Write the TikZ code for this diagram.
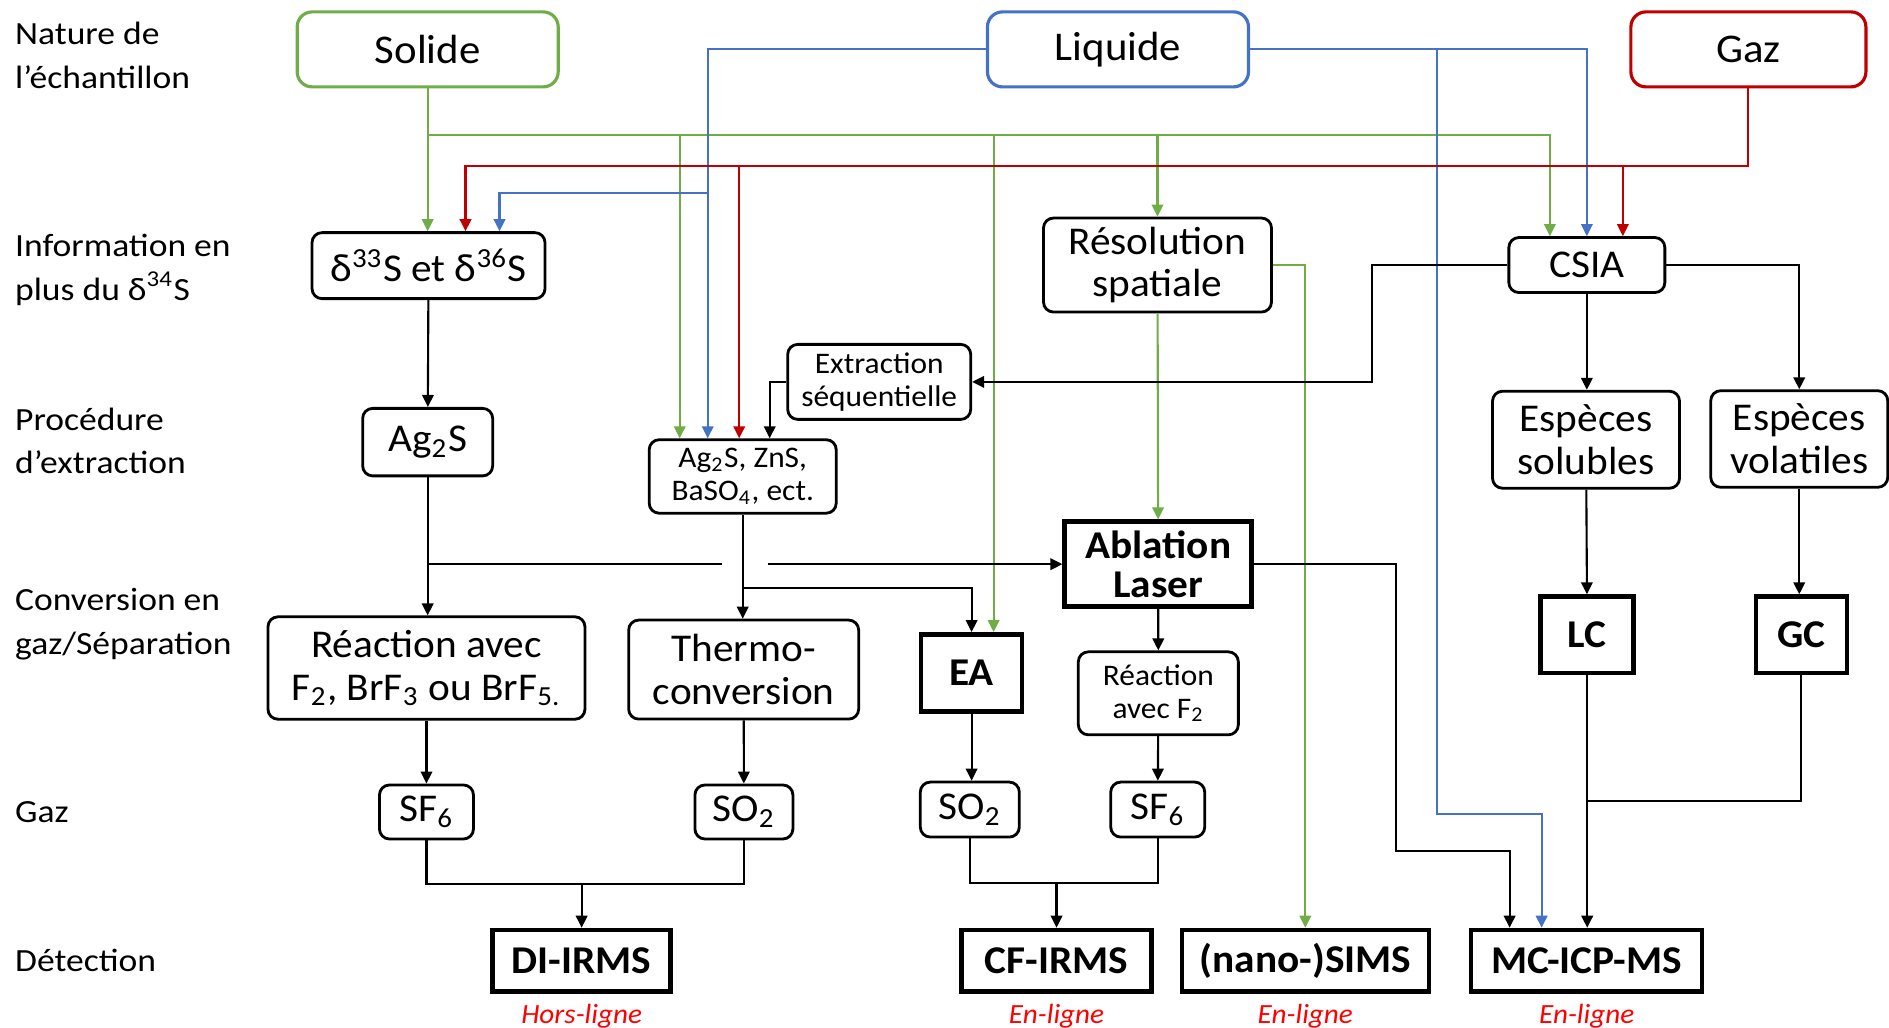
\documentclass[tikz,border=0pt]{standalone}
\usepackage{fontspec}
\setmainfont{Carlito}[FakeStretch=1.05]
\newfontfamily\labfont{Carlito}[FakeStretch=1.1]
\usetikzlibrary{arrows.meta,positioning}

\definecolor{vert}{HTML}{70AD47}
\definecolor{bleu}{HTML}{4472C4}
\definecolor{rouge}{HTML}{C00000}

\tikzset{
>={Triangle[length=1.2mm,width=1.15mm]},
every node/.style={inner sep=0pt, align=center},
etape/.style={draw, line width=0.8pt, rounded corners=1mm, font=\fontsize{11.2}{12.2}\selectfont},
petit/.style={etape, font=\fontsize{8.5}{9.3}\selectfont},
source/.style={draw=#1, line width=0.9pt, rounded corners=1.5mm, minimum width=26.1mm, minimum height=7.5mm, font=\fontsize{11.6}{12.6}\selectfont},
appareil/.style={draw, line width=1.3pt, font=\bfseries\fontsize{11.2}{11.2}\selectfont},
niveau/.style={anchor=west, align=left, font=\labfont\fontsize{9.2}{12.3}\selectfont},
mode/.style={text=red, font=\itshape\fontsize{7.9}{8.5}\selectfont},
fl/.style={->, line width=0.6pt},
ln/.style={line width=0.6pt},
gfl/.style={fl, vert},
bfl/.style={fl, bleu},
rfl/.style={fl, rouge},
}

\begin{document}
\begin{tikzpicture}[x=0.12047mm, y=-0.12047mm]
    \useasboundingbox (0,0) rectangle (1568,853);

    % niveaux
    \node[niveau] (lnat) at (12,46) {Nature de\\l’échantillon};
    \node[niveau] (linfo) at (12,224) {Information en\\plus du δ\textsuperscript{34}S};
    \node[niveau] (lproc) at (12,366) {Procédure\\d’extraction};
    \node[niveau] (lconv) at (12,518) {Conversion en\\gaz/Séparation};
    \node[niveau] (lgaz) at (12,674) {Gaz};
    \node[niveau] (ldet) at (12,797) {Détection};

    % echantillons
    \node[source=vert] (solide) at (355,41) {Solide};
    \node[source=bleu] (liquide) at (928,41) {Liquide};
    \node[source=rouge, minimum width=23.5mm] (gaz) at (1451.3,41) {Gaz};

    \node[etape, minimum width=23.3mm, minimum height=6.6mm] (delta) at (355.7,220.5) {δ\textsuperscript{33}S et δ\textsuperscript{36}S};
    \node[etape, minimum width=22.8mm, minimum height=9.4mm] (resol) at (960.8,220) {Résolution\\spatiale};
    \node[etape, minimum width=15.6mm, minimum height=5.5mm] (csia) at (1317.2,220) {CSIA};

    \node[petit, minimum width=18.3mm, minimum height=7.5mm] (extr) at (729.8,317) {Extraction\\séquentielle};
    \node[etape, minimum width=13mm, minimum height=6.75mm] (ag) at (355,367) {Ag\textsubscript{2}S};
    \node[petit, minimum width=18.7mm, minimum height=7.35mm] (mix) at (616.5,395.5) {Ag\textsubscript{2}S, ZnS,\\BaSO\textsubscript{4}, ect.};
    \node[etape, minimum width=18.7mm, minimum height=9.7mm] (sol) at (1316.5,365) {Espèces\\solubles};
    \node[etape, minimum width=17.7mm, minimum height=9.66mm] (vol) at (1493.5,364.4) {Espèces\\volatiles};

    \node[appareil, minimum width=18.7mm, minimum height=8.5mm] (abl) at (961.4,468.3) {Ablation\\Laser};

    \node[etape, minimum width=31.7mm, minimum height=10.24mm] (reac) at (354,554.5) {Réaction avec\\F\textsubscript{2}, BrF\textsubscript{3} ou BrF\textsubscript{5.}};
    \node[etape, minimum width=23mm, minimum height=9.9mm] (thermo) at (617.3,555.8) {Thermo-\\conversion};
    \node[appareil, minimum width=10.1mm, minimum height=7.7mm] (ea) at (806.5,558.5) {EA};
    \node[petit, minimum width=16mm, minimum height=8.3mm] (reacf) at (961.5,575.5) {Réaction\\avec F\textsubscript{2}};
    \node[appareil, minimum width=9.3mm, minimum height=7.66mm] (lc) at (1317.5,527) {LC};
    \node[appareil, minimum width=9.1mm, minimum height=7.66mm] (gc) at (1495.3,527) {GC};

    \node[etape, minimum width=9.4mm, minimum height=5.4mm] (sfa) at (354,674) {SF\textsubscript{6}};
    \node[etape, minimum width=9.8mm, minimum height=5.4mm] (soa) at (617.5,674) {SO\textsubscript{2}};
    \node[etape, minimum width=9.9mm, minimum height=5.5mm] (sob) at (805,672) {SO\textsubscript{2}};
    \node[etape, minimum width=9.4mm, minimum height=5.5mm] (sfb) at (961,672) {SF\textsubscript{6}};

    \node[appareil, minimum width=17.8mm, minimum height=6.15mm] (di) at (482.8,797.5) {DI-IRMS};
    \node[appareil, minimum width=19mm, minimum height=6.15mm] (cf) at (877,797.5) {CF-IRMS};
    \node[appareil, minimum width=24.7mm, minimum height=6.15mm] (sims) at (1083.5,797.5) {(nano-)SIMS};
    \node[appareil, minimum width=23.1mm, minimum height=6.15mm] (mc) at (1317,797.5) {MC-ICP-MS};

    \node[mode] (mdi) at ([yshift=-2.25mm]di.south) {Hors-ligne};
    \node[mode] (mcf) at ([yshift=-2.25mm]cf.south) {En-ligne};
    \node[mode] (msims) at ([yshift=-2.25mm]sims.south) {En-ligne};
    \node[mode] (mmc) at ([yshift=-2.25mm]mc.south) {En-ligne};

    % points de jonction
    \coordinate (jv) at (0,112);
    \coordinate (jr) at (0,138);
    \coordinate (jb) at (0,160);
    \coordinate (jm) at (0,488);
    \coordinate (jg) at (0,664.6);
    \coordinate (jl) at (1193,676);
    \coordinate (ja) at (1159,706.4);
    \coordinate (jcf) at (0,733);
    \coordinate (jdi) at (0,733.8);
    \coordinate (jc) at (1138.6,0);

    % solide
    \draw[gfl] (solide.south) -- (solide.south |- delta.north);
    \draw[gfl] (solide.south |- jv) -| ([xshift=-3.7mm]csia.north);
    \draw[gfl] ([xshift=-6.3mm]mix.north |- jv) -- ([xshift=-6.3mm]mix.north);
    \draw[gfl] ([xshift=2.2mm]ea.north |- jv) -- ([xshift=2.2mm]ea.north);
    \draw[gfl] (resol.north |- jv) -- (resol.north);
    \draw[gfl] (resol) -- (abl);
    \draw[gfl] (resol.east) -| (sims.north);

    % liquide
    \draw[bfl] (liquide.west) -| ([xshift=-3.5mm]mix.north);
    \draw[bfl] ([xshift=-3.5mm]mix.north |- jb) -| ([xshift=7.1mm]delta.north);
    \draw[bfl] (liquide.east) -| (csia.north);
    \draw[bfl] (liquide.east -| jl) -- (jl) -| ([xshift=-4.5mm]mc.north);

    % gaz
    \draw[rfl] (gaz.south) |- ([xshift=3.7mm]delta.north |- jr) -- ([xshift=3.7mm]delta.north);
    \draw[rfl] ([xshift=3.6mm]csia.north |- jr) -- ([xshift=3.6mm]csia.north);
    \draw[rfl] ([xshift=-0.35mm]mix.north |- jr) -- ([xshift=-0.35mm]mix.north);

    % chemins
    \draw[fl] (delta) -- (ag);
    \draw[fl] (ag.south) -- (ag.south |- reac.north);
    \draw[ln] (ag.south |- abl.west) -- ([xshift=-2.1mm]mix.south |- abl.west);
    \draw[fl] ([xshift=2.5mm]mix.south |- abl.west) -- (abl.west);
    \draw[fl] (mix.south) -- (mix.south |- thermo.north);
    \draw[fl] (mix.south |- jm) -| (ea.north);
    \draw[fl] (extr.west) -| ([xshift=2.7mm]mix.north);
    \draw[fl] (csia.west) -| (jc |- extr.east) -- (extr.east);
    \draw[fl] (csia.south) -- (csia.south |- sol.north);
    \draw[fl] (csia.east) -| (vol.north);
    \draw[fl] (sol) -- (lc);
    \draw[fl] (vol.south) -- (vol.south |- gc.north);
    \draw[fl] (lc.south) -- (lc.south |- mc.north);
    \draw[ln] (gc.south) |- (lc.south |- jg);
    \draw[fl] (abl.east) -| (ja) -| ([xshift=-7.7mm]mc.north);
    \draw[fl] (abl) -- (reacf);
    \draw[fl] (reacf) -- (sfb);
    \draw[fl] (ea.south) -- (ea.south |- sob.north);
    \draw[ln] (sob.south) |- (sfb.south |- jcf) -- (sfb.south);
    \draw[fl] (cf.north |- jcf) -- (cf.north);
    \draw[fl] (reac) -- (sfa);
    \draw[fl] (thermo) -- (soa);
    \draw[ln] (sfa.south) |- (soa.south |- jdi) -- (soa.south);
    \draw[fl] (di.north |- jdi) -- (di.north);
\end{tikzpicture}
\end{document}
